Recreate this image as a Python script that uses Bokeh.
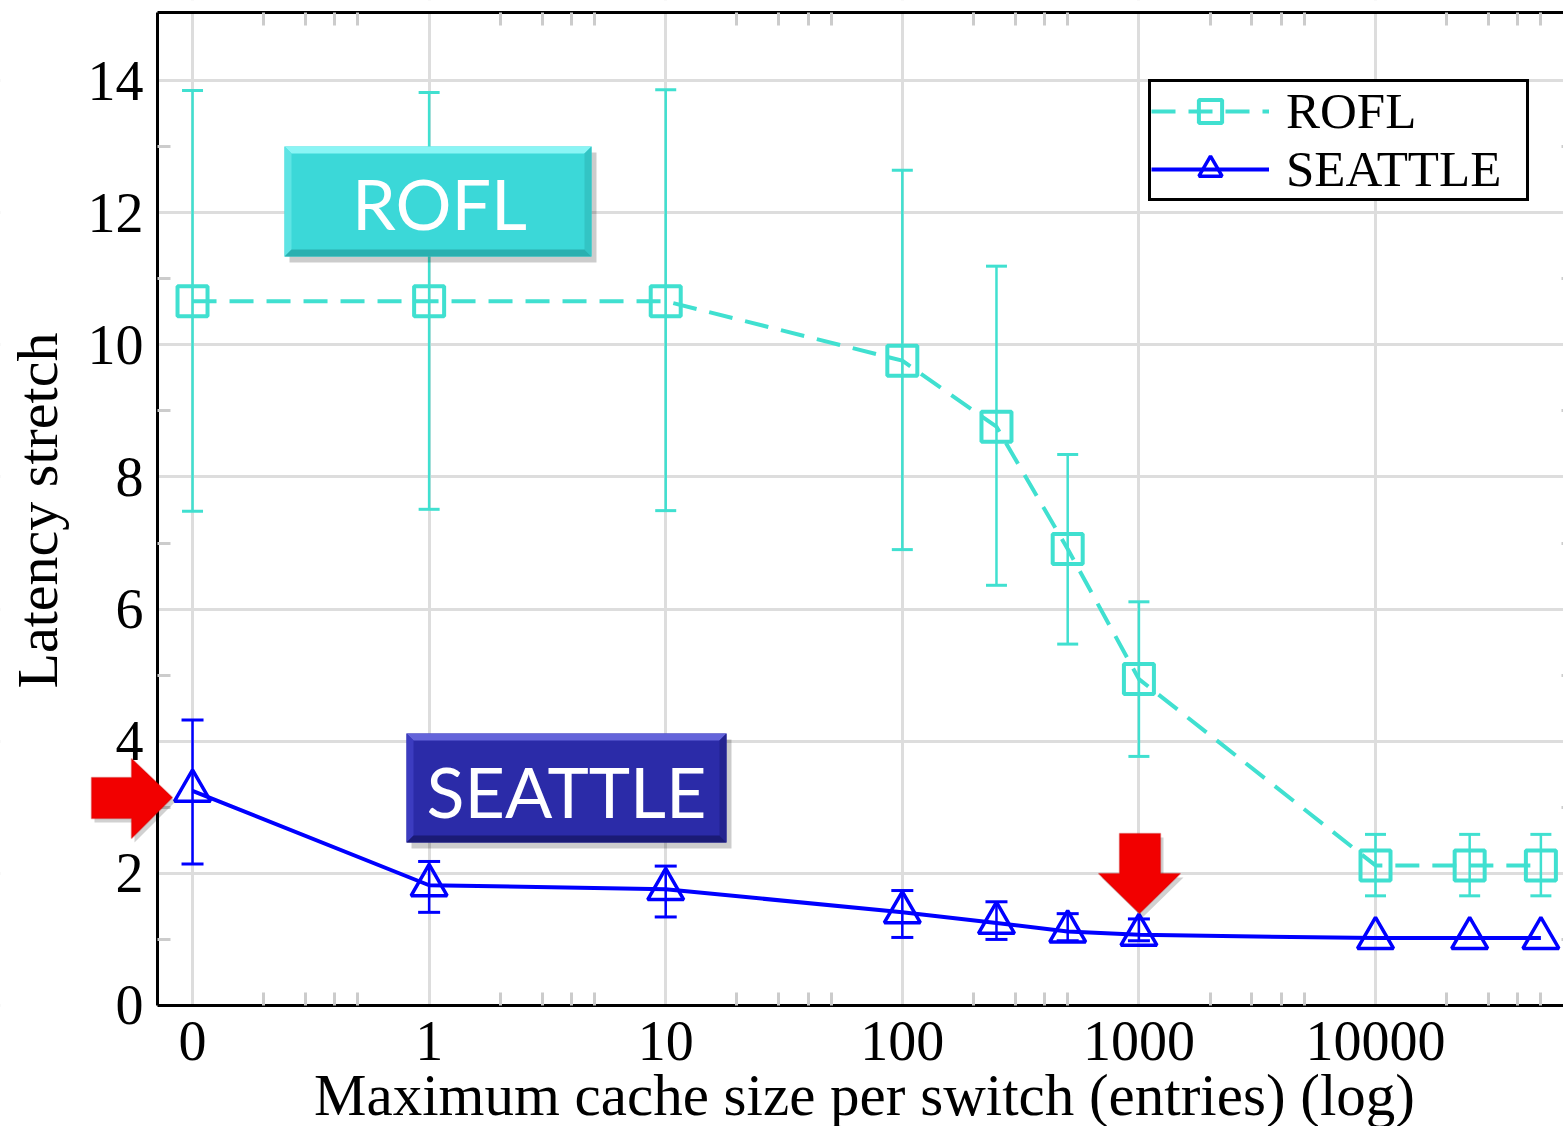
import math
from bokeh.plotting import figure
from bokeh.models import (ColumnDataSource, FixedTicker, LogAxis, LinearAxis, Whisker, TeeHead,
                          Legend, LegendItem, BoxAnnotation, PolyAnnotation, Label, Range1d)
from bokeh.embed import file_html
from bokeh.resources import INLINE

# ---------------- data ----------------
cache_sizes = [0.1, 1, 10, 100, 250, 500, 1000, 10000, 25000, 50000]   # 0.1 stands for "0"
x_tick_values = [0.1, 1, 10, 100, 1000, 10000]
x_tick_labels = ["0", "1", "10", "100", "1000", "10000"]
x_minor_ticks = [0.2, 0.3, 0.4, 0.5, 2, 3, 4, 5, 20, 30, 40, 50,
                 200, 300, 400, 500, 2000, 3000, 4000, 5000, 20000, 30000, 40000, 50000]
y_tick_values = [0, 2, 4, 6, 8, 10, 12, 14]
y_minor_ticks = [1, 3, 5, 7, 9, 11, 13]

rofl_mean = [10.66, 10.66, 10.66, 9.76, 8.76, 6.91, 4.94, 2.12, 2.12, 2.12]
rofl_upper = [13.85, 13.82, 13.86, 12.64, 11.19, 8.34, 6.11, 2.59, 2.59, 2.59]
rofl_lower = [7.48, 7.51, 7.49, 6.90, 6.36, 5.47, 3.77, 1.66, 1.66, 1.66]

seattle_mean = [3.25, 1.82, 1.76, 1.41, 1.25, 1.12, 1.07, 1.02, 1.02, 1.02]
seattle_upper = [4.32, 2.18, 2.11, 1.74, 1.57, 1.39, 1.31, None, None, None]
seattle_lower = [2.14, 1.41, 1.34, 1.03, 1.00, 0.98, 0.98, None, None, None]

series_names = ["ROFL", "SEATTLE"]
x_title = "Maximum cache size per switch (entries) (log)"
y_title = "Latency stretch"

TEAL = "#40E0D0"
BLUE = "#0000FF"
SERIF = "Liberation Serif"

# plotting-area limits in data units (axes drawn at these)
X_AXIS_START, X_END, X_RIGHT_AXIS = 0.07112, 62310, 69340
Y_MIN, Y_MAX = 0, 15.03

# ---------------- figure (frame covers the whole canvas; axes are pinned) ----------------
W, H = 1563, 1126
p = figure(width=W, height=H, x_axis_type="log",
           x_range=Range1d(0.01543, X_END), y_range=Range1d(-1.8314, 15.211),
           output_backend="svg", toolbar_location=None,
           min_border_left=0, min_border_right=0, min_border_top=0, min_border_bottom=0)
p.outline_line_color = None
p.background_fill_color = "white"
p.border_fill_color = "white"

xticker = FixedTicker(ticks=x_tick_values, minor_ticks=x_minor_ticks)
yticker = FixedTicker(ticks=y_tick_values, minor_ticks=y_minor_ticks)

def style_axis(ax):
    ax.axis_line_color = "black"
    ax.axis_line_width = 3
    ax.major_tick_line_color = None
    ax.major_tick_in = 0
    ax.major_tick_out = 0
    ax.minor_tick_in = 13
    ax.minor_tick_out = 0
    ax.minor_tick_line_color = "#cccccc"
    ax.minor_tick_line_width = 3
    ax.major_label_text_font = SERIF
    ax.major_label_text_font_size = "56px"
    ax.major_label_text_color = "black"

def hide_labels(ax):
    ax.major_label_text_font_size = "1px"
    ax.major_label_text_alpha = 0
    ax.major_label_standoff = 0

# grid first, then white masks outside the plotting area (same underlay level)
p.xgrid.ticker = xticker
p.ygrid.ticker = yticker
for g in (p.xgrid, p.ygrid):
    g.grid_line_color = "#dddddd"
    g.grid_line_width = 3

def mask(l, t, r, b):
    p.add_layout(BoxAnnotation(left=l, right=r, top=t, bottom=b, level="underlay",
                               left_units="canvas", right_units="canvas",
                               top_units="canvas", bottom_units="canvas",
                               fill_color="white", fill_alpha=1, line_color=None))

mask(0, 0, 157, H)        # left of the y axis
mask(0, 1005, W, H)       # below the x axis
mask(0, 0, W, 12)         # above the top axis

xa = p.xaxis[0]
xa.ticker = xticker
xa.fixed_location = Y_MIN
xa.bounds = (X_AXIS_START, X_END)
xa.major_label_overrides = {v: l for v, l in zip(x_tick_values, x_tick_labels)}
style_axis(xa)
xa.major_label_standoff = 17

ya = p.yaxis[0]
ya.ticker = yticker
ya.fixed_location = X_AXIS_START
ya.bounds = (Y_MIN, Y_MAX)
style_axis(ya)
ya.major_label_standoff = 14

top = LogAxis(ticker=xticker, fixed_location=Y_MAX, bounds=(X_AXIS_START, X_END))
style_axis(top)
hide_labels(top)
p.add_layout(top, "above")

right = LinearAxis(ticker=yticker, fixed_location=X_RIGHT_AXIS, bounds=(Y_MIN, Y_MAX))
style_axis(right)
hide_labels(right)
p.add_layout(right, "right")

# axis titles (centred on the plotting area)
p.add_layout(Label(x=864, y=1094, x_units="canvas", y_units="canvas", text=x_title,
                   text_font=SERIF, text_font_size="59px", text_color="black",
                   text_align="center", text_baseline="middle"))
p.add_layout(Label(x=37, y=510, x_units="canvas", y_units="canvas", text=y_title,
                   angle=math.pi / 2,
                   text_font=SERIF, text_font_size="58px", text_color="black",
                   text_align="center", text_baseline="middle"))

# ---------------- error bars ----------------
rofl_src = ColumnDataSource(dict(x=cache_sizes, y=rofl_mean, upper=rofl_upper, lower=rofl_lower))
p.add_layout(Whisker(source=rofl_src, base="x", upper="upper", lower="lower",
                     line_color=TEAL, line_width=2.5,
                     upper_head=TeeHead(size=21, line_color=TEAL, line_width=3),
                     lower_head=TeeHead(size=21, line_color=TEAL, line_width=3)))

idx = [i for i, u in enumerate(seattle_upper) if u is not None]
sea_err_src = ColumnDataSource(dict(x=[cache_sizes[i] for i in idx],
                                    upper=[seattle_upper[i] for i in idx],
                                    lower=[seattle_lower[i] for i in idx]))
p.add_layout(Whisker(source=sea_err_src, base="x", upper="upper", lower="lower",
                     line_color=BLUE, line_width=2.5,
                     upper_head=TeeHead(size=22, line_color=BLUE, line_width=3),
                     lower_head=TeeHead(size=22, line_color=BLUE, line_width=3)))

# ---------------- series ----------------
sea_src = ColumnDataSource(dict(x=cache_sizes, y=seattle_mean))
r_line = p.line("x", "y", source=rofl_src, line_color=TEAL, line_width=4, line_dash="24 13")
r_pts = p.scatter("x", "y", source=rofl_src, marker="square", size=30,
                  line_color=TEAL, line_width=4, fill_color=None)
s_line = p.line("x", "y", source=sea_src, line_color=BLUE, line_width=4)
s_pts = p.scatter("x", "y", source=sea_src, marker="triangle", size=36,
                  line_color=BLUE, line_width=3.5, fill_color=None)

legend = Legend(items=[LegendItem(label=series_names[0], renderers=[r_line, r_pts]),
                       LegendItem(label=series_names[1], renderers=[s_line, s_pts])],
                location=(1148, H - 201), orientation="vertical",
                label_text_font=SERIF, label_text_font_size="51px", label_text_color="black",
                glyph_width=118, glyph_height=58, label_height=50, label_width=240,
                label_standoff=17, padding=0, spacing=0, margin=0,
                border_line_color="black", border_line_width=3, border_line_alpha=1.0,
                background_fill_color="white", background_fill_alpha=1.0)
p.add_layout(legend)

# ---------------- callout boxes (canvas px) ----------------
def bevel_box(l, t, r, b, main, light, left_c, right_c, dark, bw=7):
    p.add_layout(BoxAnnotation(left=l + 5, right=r + 5, top=t + 6, bottom=b + 6,
                               left_units="canvas", right_units="canvas",
                               top_units="canvas", bottom_units="canvas",
                               fill_color="black", fill_alpha=0.2, line_color=None))
    p.add_layout(BoxAnnotation(left=l, right=r, top=t, bottom=b,
                               left_units="canvas", right_units="canvas",
                               top_units="canvas", bottom_units="canvas",
                               fill_color=main, fill_alpha=1, line_color=None))
    def poly(xs, ys, c):
        p.add_layout(PolyAnnotation(xs=xs, ys=ys, xs_units="canvas", ys_units="canvas",
                                    fill_color=c, fill_alpha=1, line_color=None))
    poly([l, r, r - bw, l + bw], [t, t, t + bw, t + bw], light)
    poly([l, l + bw, l + bw, l], [t, t + bw, b - bw, b], left_c)
    poly([r, r - bw, r - bw, r], [t, t + bw, b - bw, b], right_c)
    poly([l, r, r - bw, l + bw], [b, b, b - bw, b - bw], dark)

bevel_box(284, 146, 591, 256, "#3BD8D8", "#8AF5F5", "#5EE4E4", "#33C4C4", "#2AB0B0")
bevel_box(406, 733, 726, 842, "#2B2BA8", "#6464DA", "#3C3CC0", "#23238F", "#1B1B76")

p.add_layout(Label(x=439, y=202, x_units="canvas", y_units="canvas", text="ROFL",
                   text_font="Lato", text_font_size="70px", text_color="white",
                   text_align="center", text_baseline="middle"))
p.add_layout(Label(x=566, y=790, x_units="canvas", y_units="canvas", text="SEATTLE",
                   text_font="Lato", text_font_size="70px", text_color="white",
                   text_align="center", text_baseline="middle"))

# ---------------- red arrows (canvas px) ----------------
def arrow(xs, ys):
    p.add_layout(PolyAnnotation(xs=[x + 3 for x in xs], ys=[y + 4 for y in ys],
                                xs_units="canvas", ys_units="canvas",
                                fill_color="black", fill_alpha=0.18, line_color=None))
    p.add_layout(PolyAnnotation(xs=xs, ys=ys, xs_units="canvas", ys_units="canvas",
                                fill_color="#F20000", fill_alpha=1,
                                line_color="#C40000", line_width=1.5))

arrow([91, 131, 131, 172, 131, 131, 91], [777, 777, 758, 797, 838, 818, 818])
arrow([1119, 1160, 1160, 1180, 1139, 1098, 1119], [833, 833, 873, 873, 913, 873, 873])

open("out.html", "w").write(file_html(p, INLINE))
